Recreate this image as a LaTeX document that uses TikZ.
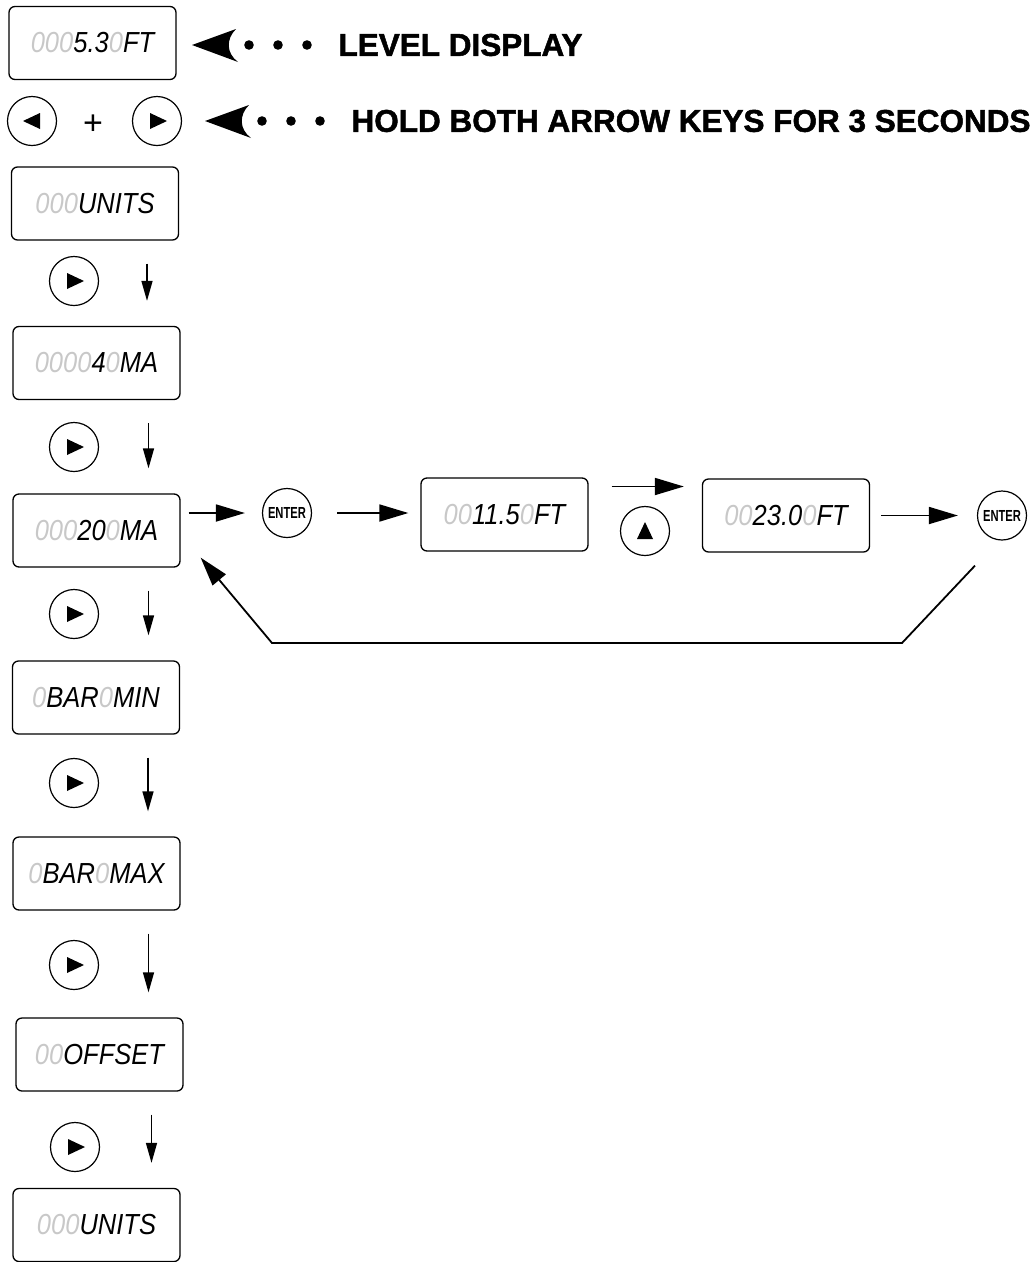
\documentclass[tikz,border=0pt]{standalone}
\usepackage{fontspec}
\setmainfont{Liberation Sans}
\newfontfamily\headfont[BoldFeatures={FakeBold=1.6}]{Liberation Sans}
\usepackage{graphicx}
\usepackage{xcolor}
\usetikzlibrary{arrows.meta}

\definecolor{segoff}{RGB}{200,200,200}
\newcommand{\off}[1]{\textcolor{segoff}{#1}}
\newcommand{\lcdtext}[1]{\scalebox{0.88}[1]{\fontsize{29}{31}\selectfont\itshape #1}}
\newcommand{\entertext}{\scalebox{0.7}[1]{\fontsize{16}{17}\selectfont\bfseries ENTER}}

\tikzset{
  lcd/.style={draw, rounded corners=6pt, line width=1.3pt, minimum width=167pt, minimum height=73pt, inner sep=0pt},
  keycap/.style={draw, circle, line width=1.2pt, minimum size=49pt, inner sep=0pt},
  flow/.style={line width=1.8pt, -{Triangle[length=29pt,width=17pt]}},
  drop/.style={line width=1.5pt, -{Triangle[length=20pt,width=11pt]}},
  headline/.style={anchor=west, font=\fontsize{31.5}{33}\selectfont\headfont\bfseries},
  pointer/.pic={
    \fill (0,0) -- (44,-16) .. controls (34,-6) and (34,8) .. (46,17) -- cycle;
    \foreach \d in {57,86,115} \fill (\d,0) circle (4.8pt);
  }
}

\begin{document}
\begin{tikzpicture}[x=1pt,y=-1pt]
   \useasboundingbox (0,0) rectangle (1034,1262);

   % header rows
   \node[lcd] (lvl) at (92.5,43) {\lcdtext{\off{000}5.3\off{0}FT}};
   \pic (ptrA) at (192,45) {pointer};
   \node[headline] (lbl1) at (335,45) {LEVEL DISPLAY};

   \node[keycap] (keyL) at (32,121) {};
   \node[font=\fontsize{34}{34}\selectfont] (plus) at (93,125) {+};
   \node[keycap] (keyR) at (157,121) {};
   \pic (ptrB) at (205,121) {pointer};
   \node[headline] (lbl2) at (348,121) {HOLD BOTH ARROW KEYS FOR 3 SECONDS};

   % menu column
   \node[lcd] (units) at (95,203.5) {\lcdtext{\off{000}UNITS}};
   \node[lcd] (d40) at (96.5,363) {\lcdtext{\off{0000}4\off{0}MA}};
   \node[lcd] (d20) at (96.5,530.5) {\lcdtext{\off{000}20\off{0}MA}};
   \node[lcd] (bmin) at (96,697.5) {\lcdtext{\off{0}BAR\off{0}MIN}};
   \node[lcd] (bmax) at (96.5,873.5) {\lcdtext{\off{0}BAR\off{0}MAX}};
   \node[lcd] (offs) at (99.5,1054.5) {\lcdtext{\off{00}OFFSET}};
   \node[lcd] (units2) at (96.5,1225) {\lcdtext{\off{000}UNITS}};

   \node[keycap] (k1) at (74,281) {};
   \node[keycap] (k2) at (74,447) {};
   \node[keycap] (k3) at (74,614) {};
   \node[keycap] (k4) at (74,783) {};
   \node[keycap] (k5) at (74,965) {};
   \node[keycap] (k6) at (75,1147) {};

   % span setting row
   \node[keycap] (ent1) at (287,513) {\entertext};
   \node[lcd] (d115) at (504.5,514.5) {\lcdtext{\off{00}11.5\off{0}FT}};
   \node[keycap] (kup) at (645,531) {};
   \node[lcd] (d230) at (786,515.5) {\lcdtext{\off{00}23.0\off{0}FT}};
   \node[keycap] (ent2) at (1002,515.5) {\entertext};

   % key symbols
   \foreach \k in {keyR,k1,k2,k3,k4,k5,k6}
      \fill (\k) ++(-7,-8) -- ++(0,16) -- ++(17,-8) -- cycle;
   \fill (keyL) ++(8,-8) -- ++(0,16) -- ++(-17,-8) -- cycle;
   \fill (kup) ++(-8,8) -- ++(16,0) -- ++(-8,-17) -- cycle;

   \foreach \a/\b in {units/d40,d40/d20,d20/bmin,bmin/bmax,bmax/offs,offs/units2}{
      \path ([xshift=52pt,yshift=-23pt]\a.south) coordinate (dtop);
      \draw[drop] (dtop) -- ([yshift=25pt]dtop |- \b.north);
   }

   \coordinate (bendR) at (902,643);
   \coordinate (bendL) at (272,643);

   \draw[flow] ([xshift=8pt]d20.east |- ent1) -- ([xshift=-17pt]ent1.west);
   \draw[flow] ([xshift=25pt]ent1.east) -- ([xshift=-12pt]ent1.east -| d115.west);
   \draw[flow] ([xshift=23pt,yshift=28pt]d115.east) -- ([xshift=-18pt,yshift=28pt]d115.east -| d230.west);
   \draw[flow] ([xshift=11pt]d230.east) -- ([xshift=-19pt]ent2.west);
   \draw[flow] ([shift={(-27,25)}]ent2.south) -- (bendR) -- (bendL) -- ([shift={(20,-10)}]d20.south east);
\end{tikzpicture}
\end{document}
